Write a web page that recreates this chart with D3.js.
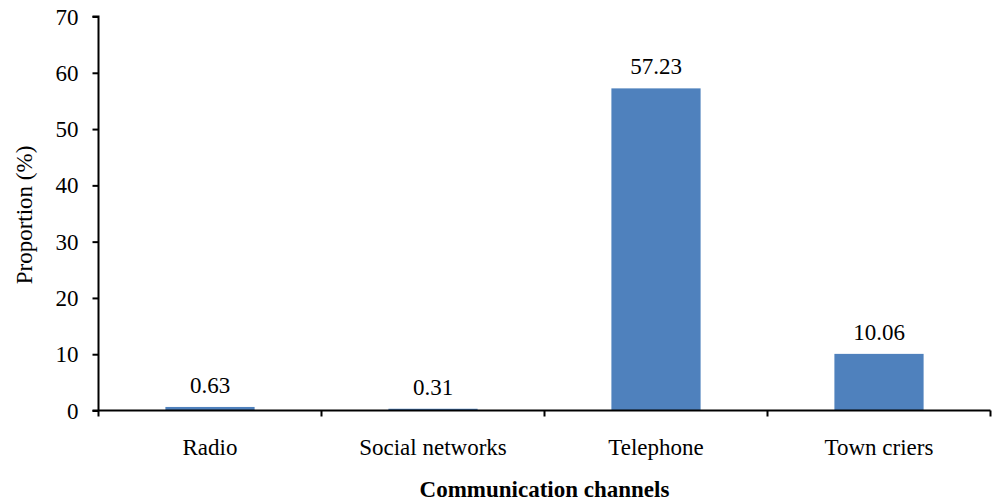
<!DOCTYPE html>
<html><head><meta charset="utf-8">
<script src="https://cdn.jsdelivr.net/npm/d3@7"></script>
<style>body{margin:0;background:#fff}svg{display:block}</style>
</head><body><svg id="c" width="992" height="502"></svg>
<script>
const categories = ["Radio", "Social networks", "Telephone", "Town criers"];
const values = [0.63, 0.31, 57.23, 10.06];
const valueLabels = ["0.63", "0.31", "57.23", "10.06"];
const yTicks = [0, 10, 20, 30, 40, 50, 60, 70];
const xTitle = "Communication channels";
const yTitle = "Proportion (%)";

const FONT = "'Liberation Serif', 'Times New Roman', Times, 'DejaVu Serif', serif";
const svg = d3.select("#c");
const m = {left: 98.5, right: 990.5, top: 16.5, bottom: 410.5};
const x = d3.scaleBand().domain(categories).range([m.left, m.right]).paddingInner(0.6).paddingOuter(0.3);
const y = d3.scaleLinear().domain([0, 70]).range([m.bottom, m.top]);
const fs = 23;

svg.selectAll("rect.bar").data(values).join("rect").attr("class","bar")
  .attr("x", (d,i) => x(categories[i]))
  .attr("width", x.bandwidth())
  .attr("y", d => y(d))
  .attr("height", d => y(0) - y(d))
  .attr("fill", "#4f81bd");

svg.selectAll("text.val").data(values).join("text").attr("class","val")
  .attr("x", (d,i) => x(categories[i]) + x.bandwidth()/2)
  .attr("y", d => y(d) - 14)
  .attr("text-anchor","middle")
  .text((d,i) => valueLabels[i]);

// y axis
const ya = svg.append("g").attr("transform", `translate(${m.left},0)`)
  .call(d3.axisLeft(y).tickValues(yTicks).tickSize(6).tickPadding(14).tickFormat(d3.format("d")));
ya.attr("font-family", null).attr("font-size", null);
ya.select(".domain").attr("stroke","#000").attr("stroke-width",2).attr("d", `M-6,${m.top}H0V${m.bottom}`);
ya.selectAll(".tick line").attr("stroke","#000").attr("stroke-width",2);
ya.selectAll(".tick text").attr("dy","0.33em");

// x axis
const step = x.step();
const bounds = d3.range(categories.length + 1).map(i => m.left + i * step);
const xa = svg.append("g");
xa.append("line").attr("x1", m.left - 6).attr("x2", m.right).attr("y1", m.bottom).attr("y2", m.bottom)
  .attr("stroke","#000").attr("stroke-width",2);
xa.selectAll("line.t").data(bounds).join("line").attr("class","t")
  .attr("x1", d=>d).attr("x2", d=>d).attr("y1", m.bottom).attr("y2", m.bottom + 6)
  .attr("stroke","#000").attr("stroke-width",2);
xa.selectAll("text").data(categories).join("text")
  .attr("x", d => x(d) + x.bandwidth()/2).attr("y", 455)
  .attr("text-anchor","middle").text(d=>d);

svg.append("text").attr("x", (m.left+m.right)/2).attr("y", 497)
  .attr("text-anchor","middle").style("font-weight","bold").text(xTitle);
svg.append("text").attr("transform", `translate(32,215) rotate(-90)`)
  .attr("text-anchor","middle").text(yTitle);

svg.selectAll("text").style("font-family", FONT).style("font-size", fs+"px").style("fill","#000");
</script></body></html>
